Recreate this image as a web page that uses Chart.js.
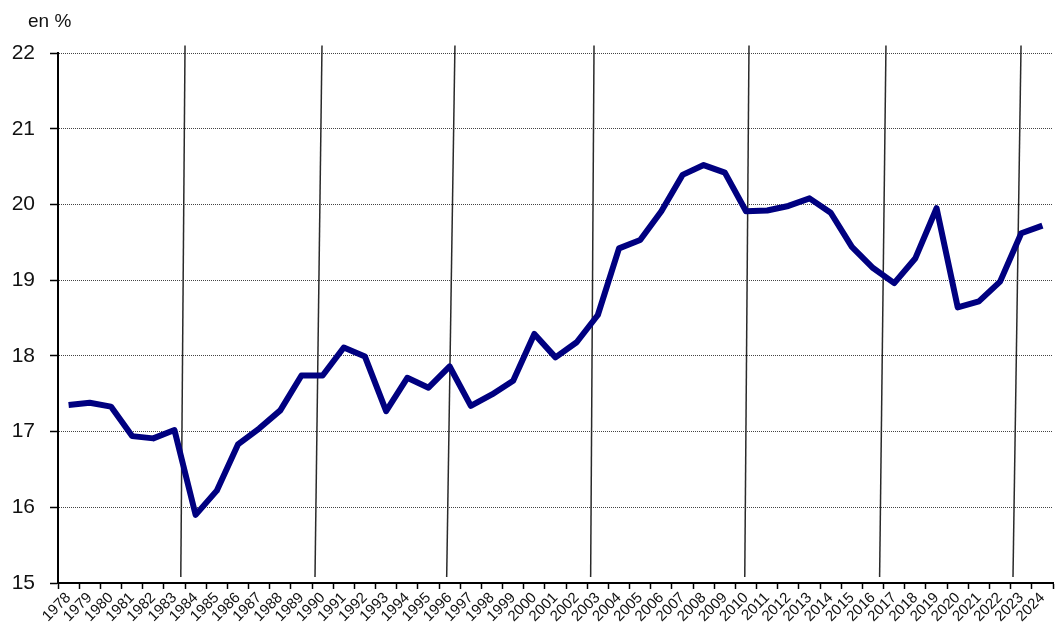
<!DOCTYPE html>
<html lang="fr">
<head>
  <meta charset="UTF-8">
  <title>en %</title>
  <script src="https://cdn.jsdelivr.net/npm/chart.js"></script>
  <style>
    body { margin: 0; background: #fff; }
    #wrap { width: 1058px; height: 631px; }
  </style>
</head>
<body>
  <div id="wrap">
    <canvas id="myChart" width="1058" height="631"></canvas>
  </div>

  <script>
    const unitLabel = 'en %';
    const years = ['1978', '1979', '1980', '1981', '1982', '1983', '1984', '1985', '1986', '1987',
      '1988', '1989', '1990', '1991', '1992', '1993', '1994', '1995', '1996', '1997',
      '1998', '1999', '2000', '2001', '2002', '2003', '2004', '2005', '2006', '2007',
      '2008', '2009', '2010', '2011', '2012', '2013', '2014', '2015', '2016', '2017',
      '2018', '2019', '2020', '2021', '2022', '2023', '2024'];
    const values = [17.35, 17.38, 17.33, 16.94, 16.91, 17.02, 15.90, 16.22, 16.83, 17.04,
      17.28, 17.74, 17.74, 18.11, 17.99, 17.27, 17.71, 17.58, 17.86, 17.34,
      17.49, 17.67, 18.29, 17.98, 18.18, 18.54, 19.42, 19.53, 19.91, 20.39,
      20.52, 20.42, 19.91, 19.92, 19.98, 20.08, 19.89, 19.44, 19.16, 18.96,
      19.29, 19.95, 18.64, 18.72, 18.98, 19.62, 19.72];
    const yMin = 15;
    const yMax = 22;
    // vertical marker lines, as category positions (bottom end, top end)
    const markerBottom = [5.30, 11.64, 17.86, 24.66, 31.94, 38.31, 44.61];
    const markerTop = [5.50, 11.97, 18.25, 24.82, 32.14, 38.61, 44.99];
    const markerLow = 15.08;
    const markerHigh = 22.1;

    const markers = {
      id: 'markers',
      beforeDatasetsDraw(chart) {
        const ctx = chart.ctx;
        const xs = chart.scales.x;
        const ys = chart.scales.y;
        ctx.save();
        ctx.strokeStyle = '#2a2a2a';
        ctx.lineWidth = 1.5;
        for (let i = 0; i < markerBottom.length; i++) {
          ctx.beginPath();
          ctx.moveTo(xs.getPixelForValue(markerBottom[i]), ys.getPixelForValue(markerLow));
          ctx.lineTo(xs.getPixelForValue(markerTop[i]), ys.getPixelForValue(markerHigh));
          ctx.stroke();
        }
        ctx.restore();
      },
      afterDraw(chart) {
        const ctx = chart.ctx;
        ctx.save();
        ctx.fillStyle = '#111';
        ctx.font = '19px "Liberation Sans", Arial, sans-serif';
        ctx.textBaseline = 'alphabetic';
        ctx.fillText(unitLabel, 28, 27);
        ctx.restore();
      }
    };

    const ctx = document.getElementById('myChart').getContext('2d');
    const chart = new Chart(ctx, {
      type: 'line',
      data: {
        labels: years,
        datasets: [{
          data: values,
          borderColor: '#000080',
          borderWidth: 6,
          borderJoinStyle: 'round',
          borderCapStyle: 'butt',
          pointRadius: 0,
          tension: 0,
          fill: false
        }]
      },
      options: {
        responsive: false,
        animation: false,
        layout: { padding: { top: 53, right: 5, left: 0, bottom: 0 } },
        plugins: {
          legend: { display: false },
          tooltip: { enabled: false }
        },
        scales: {
          x: {
            type: 'category',
            offset: true,
            afterFit(scale) { scale.height = 48; },
            grid: {
              offset: true,
              drawOnChartArea: false,
              drawTicks: true,
              tickLength: 6,
              tickColor: '#000',
              tickWidth: 1.5
            },
            border: { display: true, color: '#000', width: 2 },
            ticks: {
              autoSkip: false,
              minRotation: 45,
              maxRotation: 45,
              padding: 0,
              color: '#111',
              font: { family: '"Liberation Sans", Arial, sans-serif', size: 15 }
            }
          },
          y: {
            min: yMin,
            max: yMax,
            afterFit(scale) { scale.width = 58; },
            grid: {
              color: '#444',
              lineWidth: 1,
              drawTicks: true,
              tickLength: 8,
              tickColor: '#000',
              tickWidth: 1.5
            },
            border: { display: true, color: '#000', width: 2, dash: [1, 1] },
            ticks: {
              stepSize: 1,
              padding: 15,
              color: '#111',
              font: { family: '"Liberation Sans", Arial, sans-serif', size: 21 }
            }
          }
        }
      },
      plugins: [markers]
    });
  </script>
</body>
</html>
